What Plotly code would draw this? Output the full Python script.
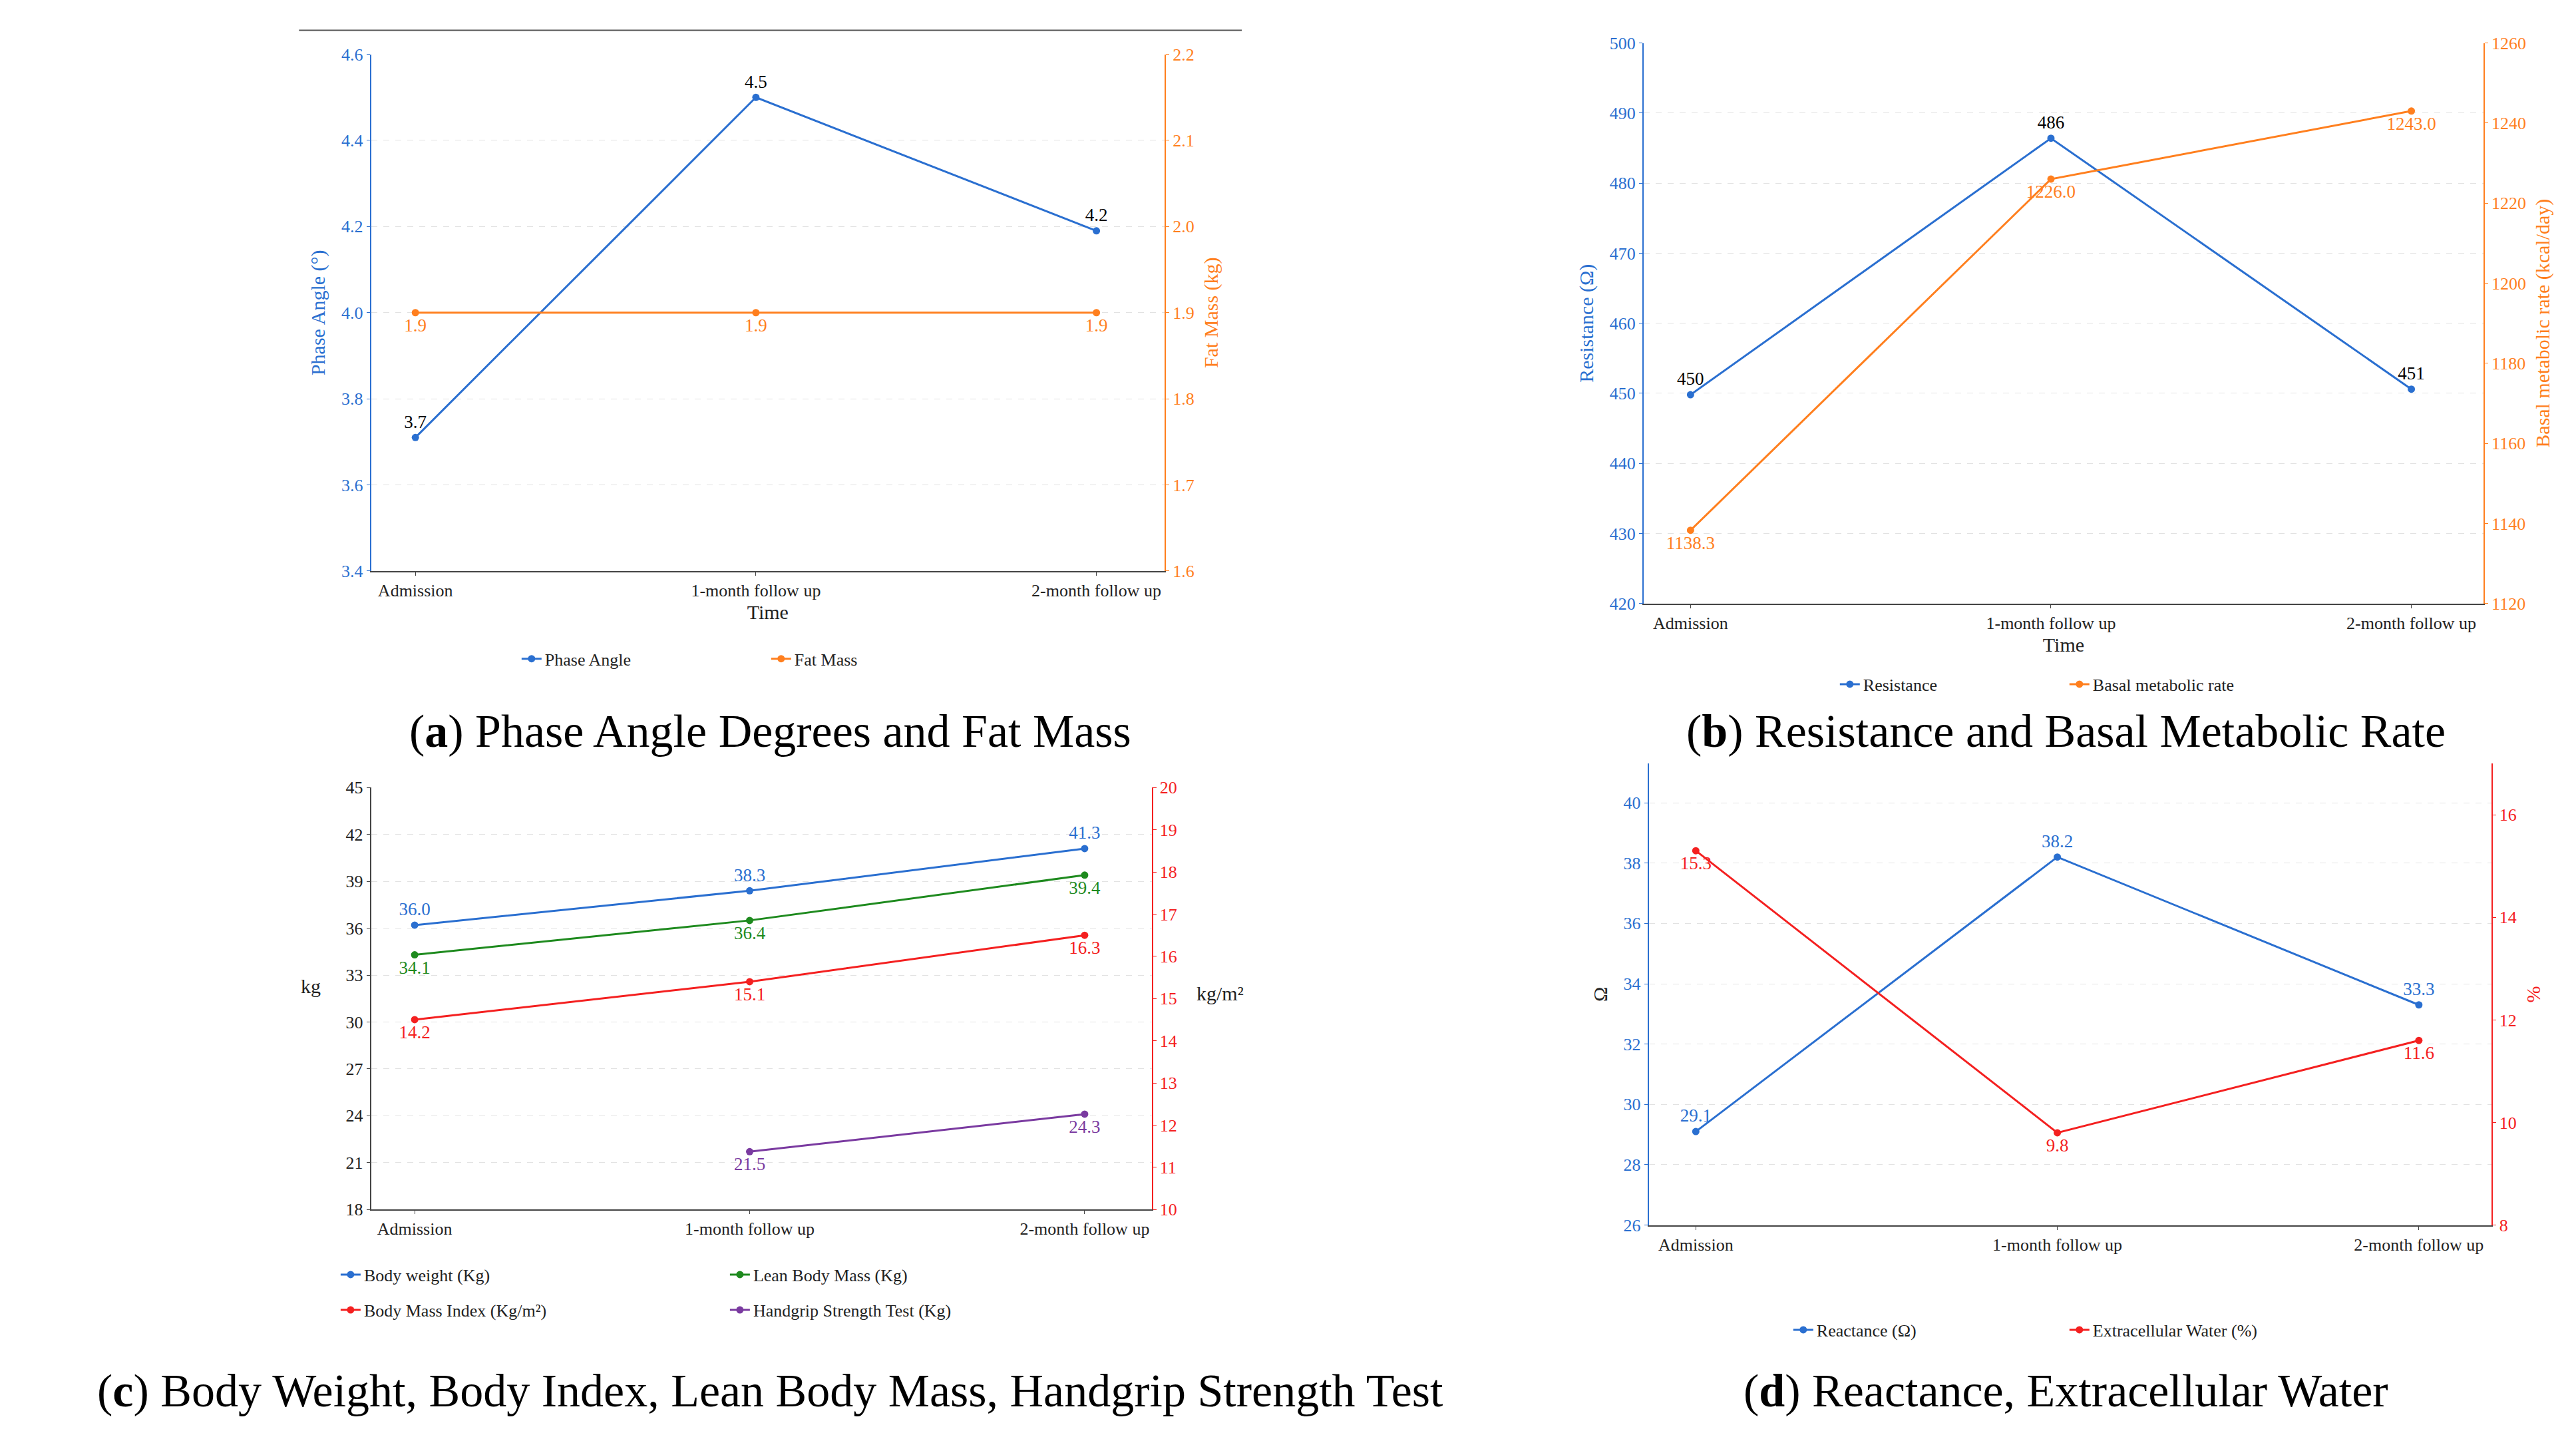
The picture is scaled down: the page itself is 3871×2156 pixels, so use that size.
import plotly.graph_objects as go

cats = ["Admission", "1-month follow up", "2-month follow up"]
phase = [3.71, 4.5, 4.19]; phase_lbl = ["3.7", "4.5", "4.2"]
fat = [1.9, 1.9, 1.9]; fat_lbl = ["1.9", "1.9", "1.9"]
resist = [449.8, 486.4, 450.6]; resist_lbl = ["450", "486", "451"]
bmr = [1138.3, 1226.0, 1243.0]; bmr_lbl = ["1138.3", "1226.0", "1243.0"]
bw = [36.2, 38.4, 41.1]; bw_lbl = ["36.0", "38.3", "41.3"]
lbm = [34.3, 36.5, 39.4]; lbm_lbl = ["34.1", "36.4", "39.4"]
bmi = [14.5, 15.4, 16.5]; bmi_lbl = ["14.2", "15.1", "16.3"]
hg = [None, 21.7, 24.1]; hg_lbl = ["", "21.5", "24.3"]
react = [29.1, 38.2, 33.3]; react_lbl = ["29.1", "38.2", "33.3"]
ecw = [15.3, 9.8, 11.6]; ecw_lbl = ["15.3", "9.8", "11.6"]

BLUE = "#2a6fd0"; ORANGE = "#ff7f1e"; RED = "#f42020"; GREEN = "#1e8a1e"; PURPLE = "#7a3aa0"
FONT = "Liberation Serif"
TF = 26; LBL = 27

fig = go.Figure()

def tr(y, lbl, color, xa, ya, name, pos, legend, tcolor=None):
    fig.add_trace(go.Scatter(x=cats, y=y, text=lbl, mode="lines+markers+text", name=name,
        line=dict(color=color, width=3), marker=dict(size=11, color=color),
        textposition=pos, textfont=dict(color=tcolor or color, size=LBL, family=FONT),
        xaxis=xa, yaxis=ya, legend=legend, cliponaxis=False))

tr(phase, phase_lbl, BLUE, "x", "y", "Phase Angle", "top center", "legend", "black")
tr(fat, fat_lbl, ORANGE, "x", "y2", "Fat Mass", "bottom center", "legend")
tr(resist, resist_lbl, BLUE, "x2", "y3", "Resistance", "top center", "legend2", "black")
tr(bmr, bmr_lbl, ORANGE, "x2", "y4", "Basal metabolic rate", "bottom center", "legend2")
tr(bw, bw_lbl, BLUE, "x3", "y5", "Body weight (Kg)", "top center", "legend3")
tr(lbm, lbm_lbl, GREEN, "x3", "y5", "Lean Body Mass (Kg)", "bottom center", "legend3")
tr(bmi, bmi_lbl, RED, "x3", "y6", "Body Mass Index (Kg/m²)", "bottom center", "legend4")
tr(hg, hg_lbl, PURPLE, "x3", "y5", "Handgrip Strength Test (Kg)", "bottom center", "legend4")
tr(react, react_lbl, BLUE, "x4", "y7", "Reactance (Ω)", "top center", "legend5")
tr(ecw, ecw_lbl, RED, "x4", "y8", "Extracellular Water (%)", "bottom center", "legend5")

def xax(dom, anchor, title=None):
    d = dict(domain=dom, anchor=anchor, type="category", range=[-0.13, 2.2], showline=True,
             linecolor="#444", linewidth=2, ticks="outside", tickcolor="#444",
             tickfont=dict(size=TF, family=FONT, color="#222"), showgrid=False)
    if title:
        d["title"] = dict(text=title, font=dict(size=30, family=FONT, color="#222"), standoff=8)
    return d

def yax(dom, anchor, rng, dt, color, title, side="left", overlay=None, grid=True, tcolor=None, fmt=None):
    d = dict(domain=dom, anchor=anchor, range=rng, dtick=dt, side=side, showline=True,
             linecolor=color, linewidth=2, ticks="outside", tickcolor=color,
             tickfont=dict(size=TF, family=FONT, color=tcolor or color),
             showgrid=grid, gridcolor="#e2e2e2", griddash="dash", zeroline=False,
             title=dict(text=title, font=dict(size=30, family=FONT, color=tcolor or color)))
    if fmt:
        d["tickformat"] = fmt
    if overlay:
        d["overlaying"] = overlay
    return d

fig.update_layout(
    xaxis=xax([0.142, 0.450], "y", "Time"),
    yaxis=yax([0.607, 0.972], "x", [3.4, 4.6], 0.2, BLUE, "Phase Angle (°)", fmt=".1f"),
    yaxis2=yax([0.607, 0.972], "x", [1.6, 2.2], 0.1, ORANGE, "Fat Mass (kg)", "right", "y", False, fmt=".1f"),
    xaxis2=xax([0.636, 0.962], "y3", "Time"),
    yaxis3=yax([0.584, 0.980], "x2", [420, 500], 10, BLUE, "Resistance (Ω)"),
    yaxis4=yax([0.584, 0.980], "x2", [1120, 1260], 20, ORANGE, "Basal metabolic rate (kcal/day)", "right", "y3", False),
    xaxis3=xax([0.142, 0.445], "y5"),
    yaxis5=yax([0.156, 0.454], "x3", [18, 45], 3, "#444", "", tcolor="#222"),
    yaxis6=yax([0.156, 0.454], "x3", [10, 20], 1, RED, "", "right", "y5", False),
    xaxis4=xax([0.638, 0.965], "y7"),
    yaxis7=yax([0.145, 0.471], "x4", [26, 41.3], 2, BLUE, "Ω", tcolor=None),
    yaxis8=yax([0.145, 0.471], "x4", [8, 17], 2, RED, "%", "right", "y7", False),
)
fig.update_layout(yaxis7=dict(title=dict(font=dict(color="#222"))))

lg = dict(orientation="h", xanchor="center", yanchor="middle", font=dict(size=TF, family=FONT, color="#222"),
          bgcolor="rgba(0,0,0,0)")
fig.update_layout(
    legend=dict(lg, x=0.296, y=0.545, entrywidth=330),
    legend2=dict(lg, x=0.80, y=0.527, entrywidth=300),
    legend3=dict(lg, x=0.28, y=0.110, entrywidth=540),
    legend4=dict(lg, x=0.28, y=0.085, entrywidth=540),
    legend5=dict(lg, x=0.80, y=0.071, entrywidth=370),
)

ann = [
    dict(text="(<b>a</b>) Phase Angle Degrees and Fat Mass", x=0.297, y=0.494),
    dict(text="(<b>b</b>) Resistance and Basal Metabolic Rate", x=0.80, y=0.494),
    dict(text="(<b>c</b>) Body Weight, Body Index, Lean Body Mass, Handgrip Strength Test", x=0.297, y=0.028),
    dict(text="(<b>d</b>) Reactance, Extracellular Water", x=0.80, y=0.028),
]
for a in ann:
    fig.add_annotation(xref="paper", yref="paper", showarrow=False, xanchor="center", yanchor="middle",
                       font=dict(size=70, family=FONT, color="black"), **a)
fig.add_annotation(xref="paper", yref="paper", x=0.123, y=0.305, text="kg", showarrow=False, xanchor="right",
                   font=dict(size=30, family=FONT, color="#222"))
fig.add_annotation(xref="paper", yref="paper", x=0.462, y=0.300, text="kg/m²", showarrow=False, xanchor="left",
                   font=dict(size=30, family=FONT, color="#222"))
fig.add_shape(type="line", xref="paper", yref="paper", x0=0.114, x1=0.48, y0=0.989, y1=0.989,
              line=dict(color="#555", width=2))

fig.update_layout(width=3871, height=2156, margin=dict(l=0, r=0, t=0, b=0),
                  paper_bgcolor="white", plot_bgcolor="white", font=dict(family=FONT))
fig.write_html("out.html")
